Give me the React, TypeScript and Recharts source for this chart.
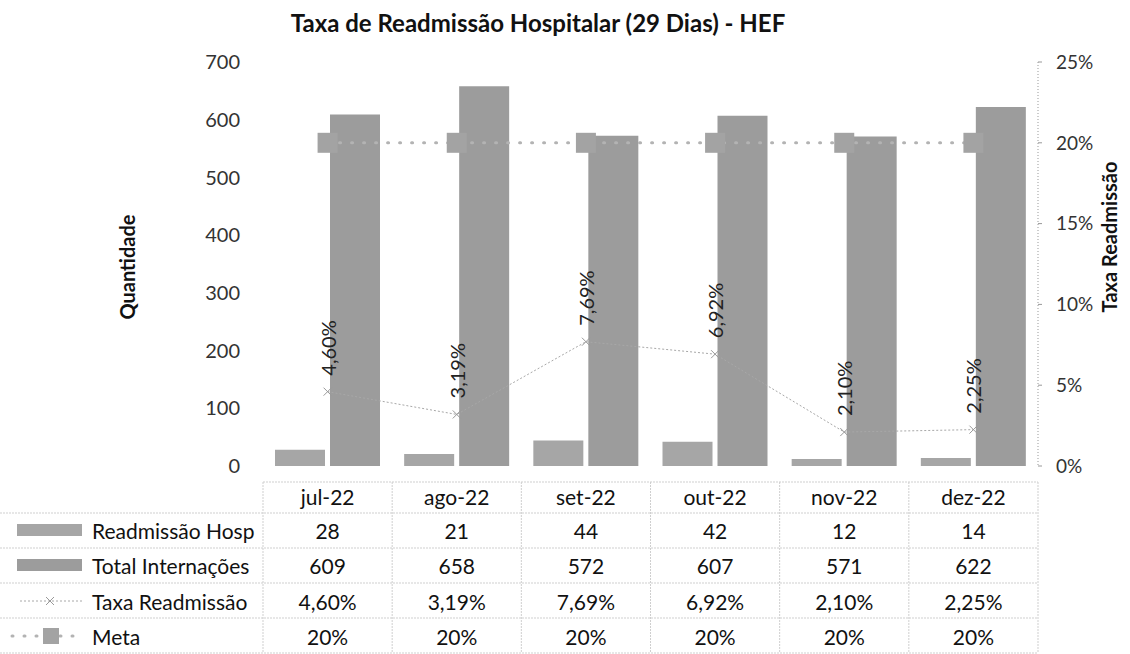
import { ComposedChart, Bar, Line, XAxis, YAxis, LabelList } from 'recharts'

const MONTHS = ['jul-22', 'ago-22', 'set-22', 'out-22', 'nov-22', 'dez-22']
const READMISSOES = [28, 21, 44, 42, 12, 14]
const INTERNACOES = [609, 658, 572, 607, 571, 622]
const TAXA = [0.046, 0.0319, 0.0769, 0.0692, 0.021, 0.0225]
const META = [0.2, 0.2, 0.2, 0.2, 0.2, 0.2]
const LEFT_TICKS = [0, 100, 200, 300, 400, 500, 600, 700]
const RIGHT_TICKS = [0, 0.05, 0.1, 0.15, 0.2, 0.25]

const FONT = "Lato, 'Open Sans', sans-serif"
const BAR_READM = '#a6a6a6'
const BAR_TOTAL = '#9c9c9c'
const LINE_GRAY = '#a8a8a8'

const data = MONTHS.map((month, i) => ({
  month,
  readm: READMISSOES[i],
  total: INTERNACOES[i],
  taxa: TAXA[i],
  meta: META[i],
}))

const pct2 = (v: number) => (v * 100).toFixed(2).replace('.', ',') + '%'
const pct0 = (v: number) => `${Math.round(v * 100)}%`

// plot box
const PLOT_LEFT = 263
const PLOT_RIGHT = 1038
const PLOT_TOP = 62
const PLOT_BOTTOM = 466
const CHART_H = 480
const COL_W = (PLOT_RIGHT - PLOT_LEFT) / MONTHS.length

// table rows
const ROW_LINES = [482, 513, 548, 583, 618, 653]
const ROW_TEXT = [496, 530, 565, 601, 636]

const TaxaLabel = (props: any) => {
  const { x, y, value } = props
  const lx = x
  const ly = y - 16
  return (
    <text
      x={lx}
      y={ly}
      transform={`rotate(-90 ${lx} ${ly})`}
      textAnchor="start"
      dominantBaseline="central"
      fontSize={20}
      fontFamily={FONT}
      fill="#222"
    >
      {pct2(value)}
    </text>
  )
}

const XDot = (props: any) => {
  const { cx, cy, index } = props
  const s = 4
  return (
    <g key={`x-${index}`} stroke="#999" strokeWidth={1}>
      <line x1={cx - s} y1={cy - s} x2={cx + s} y2={cy + s} />
      <line x1={cx - s} y1={cy + s} x2={cx + s} y2={cy - s} />
    </g>
  )
}

const SquareDot = (props: any) => {
  const { cx, cy, index } = props
  return <rect key={`sq-${index}`} x={cx - 10} y={cy - 10} width={20} height={20} fill="#a3a3a3" />
}

function DataTable() {
  const rows = [
    { name: 'Readmissão Hosp', values: READMISSOES.map(String) },
    { name: 'Total Internações', values: INTERNACOES.map(String) },
    { name: 'Taxa Readmissão', values: TAXA.map(pct2) },
    { name: 'Meta', values: META.map(pct0) },
  ]
  const lineStyle = { stroke: '#cfcfcf', strokeWidth: 1, strokeDasharray: '2 1' }
  return (
    <g fontFamily={FONT} fontSize={21} fill="#111">
      {ROW_LINES.map((y, i) => (
        <line key={`h${i}`} x1={i === 0 ? PLOT_LEFT : 0} x2={PLOT_RIGHT} y1={y} y2={y} {...lineStyle} />
      ))}
      {MONTHS.map((_, i) => (
        <line
          key={`v${i}`}
          x1={PLOT_LEFT + i * COL_W}
          x2={PLOT_LEFT + i * COL_W}
          y1={ROW_LINES[0]}
          y2={ROW_LINES[5]}
          {...lineStyle}
        />
      ))}
      <line x1={PLOT_RIGHT} x2={PLOT_RIGHT} y1={ROW_LINES[0]} y2={ROW_LINES[5]} {...lineStyle} />
      {MONTHS.map((m, i) => (
        <text key={m} x={PLOT_LEFT + (i + 0.5) * COL_W} y={ROW_TEXT[0]} textAnchor="middle" dominantBaseline="central">
          {m}
        </text>
      ))}
      {rows.map((r, ri) => (
        <g key={r.name}>
          <text x={92} y={ROW_TEXT[ri + 1]} dominantBaseline="central">
            {r.name}
          </text>
          {r.values.map((v, ci) => (
            <text
              key={ci}
              x={PLOT_LEFT + (ci + 0.5) * COL_W}
              y={ROW_TEXT[ri + 1]}
              textAnchor="middle"
              dominantBaseline="central"
            >
              {v}
            </text>
          ))}
        </g>
      ))}
      {/* legend keys */}
      <rect x={17} y={ROW_TEXT[1] - 6} width={65} height={12} fill={BAR_READM} />
      <rect x={17} y={ROW_TEXT[2] - 6} width={65} height={12} fill={BAR_TOTAL} />
      <line x1={20} x2={82} y1={ROW_TEXT[3]} y2={ROW_TEXT[3]} stroke={LINE_GRAY} strokeDasharray="2 2" />
      <XDot cx={50} cy={ROW_TEXT[3]} index={99} />
      <line
        x1={12}
        x2={84}
        y1={ROW_TEXT[4]}
        y2={ROW_TEXT[4]}
        stroke="#b3b3b3"
        strokeWidth={3}
        strokeDasharray="1 11"
        strokeLinecap="round"
      />
      <rect x={43} y={ROW_TEXT[4] - 8} width={16} height={16} fill="#a3a3a3" />
    </g>
  )
}

export default function App() {
  return (
    <div style={{ position: 'fixed', left: 0, top: 0, width: 1130, height: 654, background: '#fff' }}>
      <svg width={1130} height={654} style={{ position: 'absolute', left: 0, top: 0 }}>
        <text x={538} y={22} textAnchor="middle" dominantBaseline="central" fontFamily={FONT} fontSize={24} fontWeight="bold" fill="#111">
          Taxa de Readmissão Hospitalar (29 Dias) - HEF
        </text>
        <text
          x={127}
          y={267}
          transform="rotate(-90 127 267)"
          textAnchor="middle"
          dominantBaseline="central"
          fontFamily={FONT}
          fontSize={20}
          fontWeight="bold"
          fill="#111"
        >
          Quantidade
        </text>
        <text
          x={1109}
          y={237}
          transform="rotate(-90 1109 237)"
          textAnchor="middle"
          dominantBaseline="central"
          fontFamily={FONT}
          fontSize={20}
          fontWeight="bold"
          fill="#111"
        >
          Taxa Readmissão
        </text>
        <DataTable />
      </svg>
      <div style={{ position: 'absolute', left: 0, top: 0 }}>
        <ComposedChart
          width={1130}
          height={CHART_H}
          data={data}
          barSize={50}
          barGap={5}
          margin={{ top: PLOT_TOP, bottom: CHART_H - PLOT_BOTTOM, left: PLOT_LEFT - 60, right: 1130 - PLOT_RIGHT - 70 }}
        >
          <XAxis dataKey="month" hide />
          <YAxis
            yAxisId="left"
            width={60}
            domain={[0, 700]}
            ticks={LEFT_TICKS}
            axisLine={false}
            tickLine={false}
            tickSize={0}
            tickMargin={23}
            tick={{ fontSize: 20, fontFamily: FONT, fill: '#333' }}
          />
          <YAxis
            yAxisId="right"
            orientation="right"
            width={70}
            domain={[0, 0.25]}
            ticks={RIGHT_TICKS}
            tickFormatter={pct0}
            axisLine={{ stroke: '#999', strokeDasharray: '1 2' }}
            tickLine={{ stroke: '#999' }}
            tickSize={4}
            tickMargin={14}
            tick={{ fontSize: 19, fontFamily: FONT, fill: '#333', textAnchor: 'start' }}
          />
          <Bar yAxisId="left" dataKey="readm" fill={BAR_READM} isAnimationActive={false} />
          <Bar yAxisId="left" dataKey="total" fill={BAR_TOTAL} isAnimationActive={false} />
          <Line
            yAxisId="right"
            dataKey="meta"
            stroke="#b3b3b3"
            strokeWidth={3}
            strokeDasharray="1 11"
            strokeLinecap="round"
            dot={SquareDot}
            activeDot={false}
            isAnimationActive={false}
          />
          <Line
            yAxisId="right"
            dataKey="taxa"
            stroke={LINE_GRAY}
            strokeWidth={1}
            strokeDasharray="2 2"
            dot={XDot}
            activeDot={false}
            isAnimationActive={false}
          >
            <LabelList dataKey="taxa" content={TaxaLabel} />
          </Line>
        </ComposedChart>
      </div>
    </div>
  )
}
